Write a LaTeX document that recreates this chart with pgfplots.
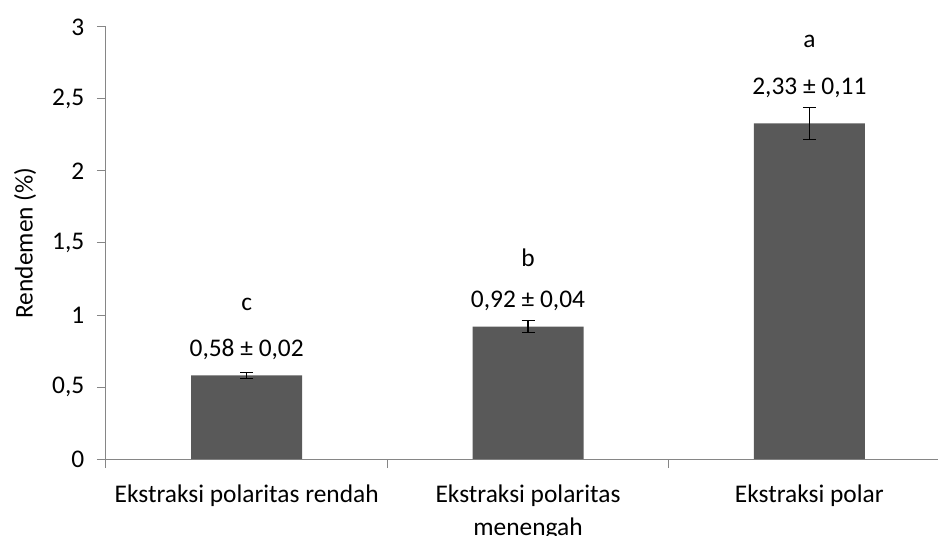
\documentclass[border=0pt]{standalone}
\usepackage{pgfplots}
\pgfplotsset{compat=1.18}
\usepackage{fontspec}
\setmainfont{Carlito}
\definecolor{barcol}{HTML}{595959}
\definecolor{axcol}{HTML}{868686}
\newcommand\tl[1]{\mbox{\fontsize{25.5}{30}\selectfont #1}}
\begin{document}
\fontsize{25.5}{30}\selectfont
\begin{tikzpicture}
\begin{axis}[
  name=ax,
  scale only axis, width=844bp, height=432bp,
  xmin=-0.5, xmax=2.5, ymin=0, ymax=3,
  axis lines*=left,
  axis line style={axcol, line width=1bp},
  tick style={axcol, line width=1bp},
  tick align=outside,
  major tick length=9bp,
  ytick={0,0.5,1,1.5,2,2.5,3},
  yticklabels={\tl{0},\tl{0,5},\tl{1},\tl{1,5},\tl{2},\tl{2,5},\tl{3}},
  yticklabel style={font=\fontsize{25.5}{30}\selectfont, text=black, xshift=-4bp},
  xtick={-0.5,0.5,1.5,2.5},
  xticklabels={},
  extra x ticks={0,1,2},
  extra x tick labels={Ekstraksi polaritas rendah, {Ekstraksi polaritas\\[3bp]menengah}, Ekstraksi polar},
  extra x tick style={major tick length=0pt, tick style={draw=none},
     tick label style={align=center, font=\fontsize{25.5}{30}\selectfont, text=black, yshift=-17bp}},
  ylabel={Rendemen (\%)},
  ylabel style={at={(axis description cs:0,0.5)}, anchor=center, yshift=81bp, font=\fontsize{25.5}{30}\selectfont},
  clip=false,
]
\addplot[ybar, bar width=111bp, fill=barcol, draw=none,
  error bars/.cd, y dir=both, y explicit,
  error bar style={black, line width=1.3bp},
  error mark options={black, rotate=90, mark size=6.5bp, line width=1.3bp}]
coordinates {(0,0.58) +- (0,0.02) (1,0.92) +- (0,0.04) (2,2.33) +- (0,0.11)};
\node at (axis cs:0,0.76) {0,58 ± 0,02};
\node at (axis cs:0,1.07) {c};
\node at (axis cs:1,1.10) {0,92 ± 0,04};
\node at (axis cs:1,1.40) {b};
\node at (axis cs:2,2.58) {2,33 ± 0,11};
\node at (axis cs:2,2.90) {a};
\end{axis}
\pgfresetboundingbox
\path[use as bounding box] ([xshift=-106bp,yshift=-77bp]ax.south west) rectangle ([xshift=-12bp,yshift=27bp]ax.north east);
\end{tikzpicture}
\end{document}
